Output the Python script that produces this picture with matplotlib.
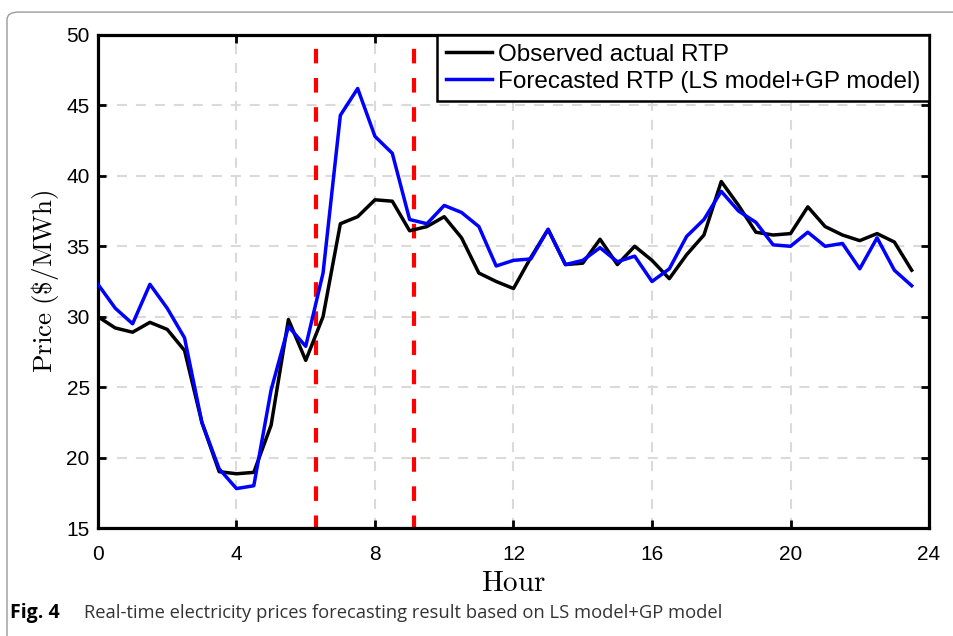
import numpy as np
import matplotlib
matplotlib.use("Agg")
import matplotlib.pyplot as plt
from matplotlib.patches import FancyBboxPatch

# half-hourly data, 0 .. 23.5 h
hours = np.arange(0, 24, 0.5)
observed = [30.0, 29.2, 28.9, 29.6, 29.1, 27.6, 22.5, 19.0, 18.85, 18.95,
            22.3, 29.8, 26.9, 30.0, 36.6, 37.1, 38.3, 38.2, 36.1, 36.4,
            37.1, 35.6, 33.1, 32.5, 32.0, 34.2, 36.2, 33.7, 33.8, 35.5,
            33.7, 35.0, 34.0, 32.7, 34.4, 35.8, 39.6, 37.9, 36.0, 35.8,
            35.9, 37.8, 36.4, 35.8, 35.4, 35.9, 35.3, 33.3]
forecast = [32.3, 30.6, 29.5, 32.3, 30.6, 28.5, 22.5, 19.2, 17.8, 18.0,
            24.8, 29.3, 27.9, 33.1, 44.3, 46.2, 42.8, 41.6, 36.9, 36.6,
            37.9, 37.4, 36.4, 33.6, 34.0, 34.1, 36.2, 33.7, 34.0, 34.9,
            33.9, 34.3, 32.5, 33.4, 35.7, 36.9, 38.9, 37.5, 36.7, 35.1,
            35.0, 36.0, 35.0, 35.2, 33.4, 35.6, 33.3, 32.2]
markers_x = [6.3, 9.13]   # red dashed lines
x_ticks = [0, 4, 8, 12, 16, 20, 24]
y_ticks = [15, 20, 25, 30, 35, 40, 45, 50]

sans = ['Liberation Sans', 'DejaVu Sans']
plt.rcParams['mathtext.fontset'] = 'cm'

fig = plt.figure(figsize=(9.54, 6.36), dpi=100)

# rounded frame around the figure
frame = FancyBboxPatch((7 / 954, -0.05), 1.2, 1.031, boxstyle="round,pad=0,rounding_size=0.012",
                       transform=fig.transFigure, fill=False, edgecolor="#9a9a9a", linewidth=1.0)
fig.patches.append(frame)

ax = fig.add_axes([0.1027, 0.1698, 0.8711, 0.7752])

ax.grid(True, color="#dadada", linestyle=(0, (4.8, 4.3)), linewidth=1.5)
ax.set_axisbelow(True)

for xm in markers_x:
    ax.axvline(xm, color="red", linestyle=(0.5, (3.5, 3.5)), linewidth=3.0, zorder=2)

ax.plot(hours, observed, color="black", linewidth=2.5, label="Observed actual RTP", zorder=3)
ax.plot(hours, forecast, color="blue", linewidth=2.5,
        label="Forecasted RTP (LS model+GP model)", zorder=3)

ax.set_xlim(0, 24)
ax.set_ylim(15, 50)
ax.set_xticks(x_ticks)
ax.set_yticks(y_ticks)
ax.tick_params(direction="in", top=True, right=True, length=6, width=2, labelsize=15)
ax.tick_params(axis="x", pad=12)
ax.tick_params(axis="y", pad=6)
for lab in ax.get_xticklabels() + ax.get_yticklabels():
    lab.set_family(sans)
for sp in ax.spines.values():
    sp.set_linewidth(2.3)

ax.set_xlabel(r"$\mathrm{Hour}$", fontsize=21, labelpad=4)
ax.set_ylabel(r"$\mathrm{Price\ (\$/MWh)}$", fontsize=19.5, labelpad=4)

leg = ax.legend(loc="upper right", prop={"family": sans, "size": 17.5}, frameon=True, fancybox=False,
                handlelength=1.9, handletextpad=0.25, borderpad=0.35, labelspacing=0.22,
                borderaxespad=0)
leg.get_frame().set_edgecolor("black")
leg.get_frame().set_linewidth(1.8)
leg.get_frame().set_alpha(1)

fig.text(10 / 954, 1 - 613 / 636, "Fig. 4", fontsize=14, fontweight="bold",
         family=["Open Sans", "DejaVu Sans"], va="center")
fig.text(84 / 954, 1 - 613 / 636, "Real-time electricity prices forecasting result based on LS model+GP model",
         fontsize=13.2, family=["Open Sans", "DejaVu Sans"], va="center", color="#333333")

fig.savefig("out.png", dpi=100)
